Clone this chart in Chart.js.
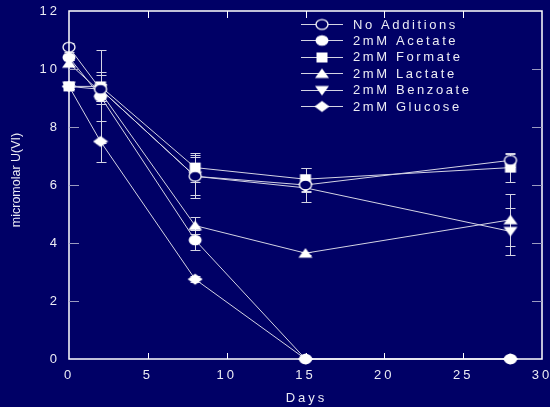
<!DOCTYPE html>
<html>
<head>
<meta charset="utf-8">
<script src="https://cdn.jsdelivr.net/npm/chart.js@4/dist/chart.umd.min.js"></script>
<style>
  html, body { margin: 0; padding: 0; background: #000066; }
  #wrap { width: 550px; height: 407px; }
</style>
</head>
<body>
<div id="wrap"><canvas id="grafico" width="550" height="407"></canvas></div>
<script>
// Days sampled
const dias = [0, 2, 8, 15, 28];

// Series names
const series = ["No Additions", "2mM Acetate", "2mM Formate", "2mM Lactate", "2mM Benzoate", "2mM Glucose"];

// micromolar U(VI) values
const semAdicao = [10.75, 9.3, 6.3, 6.0, 6.85];
const acetato   = [10.4, 9.05, 4.1, 0, 0];
const formato   = [9.4, 9.4, 6.6, 6.2, 6.6];
const lactato   = [10.2, 9.2, 4.6, 3.65, 4.8];
const benzoato  = [9.4, 9.3, 6.3, 5.9, 4.4];
const glicose   = [9.4, 7.5, 2.75, 0, 0];

// error bars (+/-)
const erroSemAdicao = [0.15, 0.5, 0.75, 0.6, 0.22];
const erroAcetato   = [0.1, 1.6, 0.35, 0, 0];
const erroFormato   = [0.1, 0.5, 0.5, 0.4, 0.5];
const erroLactato   = [0.1, 0.3, 0.3, 0.05, 0.9];
const erroBenzoato  = [0.1, 0.2, 0.65, 0.15, 0.8];
const erroGlicose   = [0.1, 0.72, 0.1, 0, 0];

// axis ticks
const ticksX = [0, 5, 10, 15, 20, 25, 30];
const ticksY = [0, 2, 4, 6, 8, 10, 12];

const FUNDO = "#000066";
const BRANCO = "#ececf4";
const LINHA = "#d4d4e4";

// Markers as small canvases (the original has slightly wide shapes)
function criarMarcador(tipo) {
  const c = document.createElement("canvas");
  c.width = 16; c.height = 14;
  const g = c.getContext("2d");
  g.fillStyle = "#ffffff";
  g.strokeStyle = "#ffffff";
  g.lineWidth = 1.3;
  const cx = 8, cy = 7;
  g.beginPath();
  if (tipo === "aberto") {
    g.ellipse(cx, cy, 6, 4.8, 0, 0, Math.PI * 2);
    g.fillStyle = FUNDO;
    g.fill();
    g.stroke();
    return c;
  } else if (tipo === "circulo") {
    g.ellipse(cx, cy, 6.5, 5.2, 0, 0, Math.PI * 2);
  } else if (tipo === "quadrado") {
    g.rect(cx - 5.5, cy - 5, 11, 10);
  } else if (tipo === "triangulo") {
    g.moveTo(cx, cy - 5); g.lineTo(cx + 7, cy + 4.5); g.lineTo(cx - 7, cy + 4.5);
  } else if (tipo === "invertido") {
    g.moveTo(cx, cy + 5); g.lineTo(cx + 7, cy - 4.5); g.lineTo(cx - 7, cy - 4.5);
  } else if (tipo === "losango") {
    g.moveTo(cx, cy - 5.5); g.lineTo(cx + 7.5, cy); g.lineTo(cx, cy + 5.5); g.lineTo(cx - 7.5, cy);
  }
  g.closePath();
  g.fill();
  return c;
}

const valores = [semAdicao, acetato, formato, lactato, benzoato, glicose];
const erros = [erroSemAdicao, erroAcetato, erroFormato, erroLactato, erroBenzoato, erroGlicose];
const marcadores = ["aberto", "circulo", "quadrado", "triangulo", "invertido", "losango"].map(criarMarcador);

const datasets = series.map(function (nome, i) {
  return {
    label: nome,
    data: dias.map(function (d, j) { return { x: d, y: valores[i][j] }; }),
    borderColor: LINHA,
    borderWidth: 1,
    pointStyle: marcadores[i],
    pointRadius: 7,
    pointHoverRadius: 7,
    fill: false,
    clip: false,
    tension: 0
  };
});

// Background, error bars, inward ticks, box, legend, titles
const pluginDesenho = {
  id: "desenho",
  beforeUpdate(chart) { chart.ctx.letterSpacing = "3px"; },
  beforeDraw(chart) {
    const ctx = chart.ctx;
    ctx.save();
    ctx.fillStyle = FUNDO;
    ctx.fillRect(0, 0, chart.width, chart.height);
    ctx.restore();
    ctx.letterSpacing = "3px";
  },
  beforeDatasetsDraw(chart) {
    const ctx = chart.ctx;
    const sx = chart.scales.x, sy = chart.scales.y;
    ctx.save();
    ctx.strokeStyle = LINHA;
    ctx.lineWidth = 1;
    erros.forEach(function (lista, i) {
      lista.forEach(function (e, j) {
        if (!e) return;
        const px = Math.round(sx.getPixelForValue(dias[j])) + 0.5;
        const top = Math.round(sy.getPixelForValue(valores[i][j] + e)) + 0.5;
        const bot = Math.round(sy.getPixelForValue(valores[i][j] - e)) + 0.5;
        ctx.beginPath();
        ctx.moveTo(px, top); ctx.lineTo(px, bot);
        ctx.moveTo(px - 5, top); ctx.lineTo(px + 5, top);
        ctx.moveTo(px - 5, bot); ctx.lineTo(px + 5, bot);
        ctx.stroke();
      });
    });
    ctx.restore();
  },
  afterDraw(chart) {
    const ctx = chart.ctx;
    const a = chart.chartArea;
    const sx = chart.scales.x, sy = chart.scales.y;
    ctx.save();
    // box
    ctx.strokeStyle = "#ffffff";
    ctx.lineWidth = 1.5;
    ctx.strokeRect(a.left, a.top, a.right - a.left, a.bottom - a.top);
    // x ticks inward (top and bottom)
    ctx.lineWidth = 1;
    ctx.beginPath();
    ticksX.slice(1, -1).forEach(function (v) {
      const px = Math.round(sx.getPixelForValue(v)) + 0.5;
      ctx.moveTo(px, a.bottom); ctx.lineTo(px, a.bottom - 6);
      ctx.moveTo(px, a.top); ctx.lineTo(px, a.top + 7);
    });
    ctx.stroke();
    // y ticks inward (left and right)
    ctx.strokeStyle = "#9a9ac0";
    ctx.beginPath();
    ticksY.slice(1, -1).forEach(function (v) {
      const py = Math.round(sy.getPixelForValue(v)) + 0.5;
      ctx.moveTo(a.left, py); ctx.lineTo(a.left + 10, py);
      ctx.moveTo(a.right, py); ctx.lineTo(a.right - 10, py);
    });
    ctx.stroke();

    // markers sitting on the x axis go over the box line
    [3, 4].forEach(function (j) {
      const px = sx.getPixelForValue(dias[j]);
      const py = sy.getPixelForValue(glicose[j]);
      ctx.drawImage(marcadores[5], Math.round(px) - 8, Math.round(py) - 7);
    });

    // legend
    ctx.font = "13px 'Liberation Sans', Arial, sans-serif";
    ctx.textBaseline = "middle";
    ctx.textAlign = "left";
    ctx.fillStyle = BRANCO;
    ctx.letterSpacing = "2.6px";
    series.forEach(function (nome, i) {
      const y = 24 + i * 16.4;
      ctx.strokeStyle = LINHA;
      ctx.beginPath();
      ctx.moveTo(301, Math.round(y) + 0.5); ctx.lineTo(343, Math.round(y) + 0.5);
      ctx.stroke();
      ctx.drawImage(marcadores[i], 322 - 8, Math.round(y) - 7 + 0.5);
      ctx.fillText(nome, 353, y + 1);
    });

    // axis titles
    ctx.textAlign = "center";
    ctx.letterSpacing = "3px";
    ctx.fillText("Days", (a.left + a.right) / 2 + 1, 398);
    ctx.letterSpacing = "0px";
    ctx.translate(17, (a.top + a.bottom) / 2 - 5);
    ctx.rotate(-Math.PI / 2);
    ctx.font = "12.5px 'Liberation Sans', Arial, sans-serif";
    ctx.fillText("micromolar U(VI)", 0, 0);
    ctx.restore();
  }
};

const fonteTicks = { family: "'Liberation Sans', Arial, sans-serif", size: 13 };

new Chart(document.getElementById("grafico"), {
  type: "line",
  data: { datasets: datasets },
  options: {
    responsive: false,
    animation: false,
    layout: { padding: { left: 0, top: 11, right: 7, bottom: 0 } },
    plugins: { legend: { display: false }, tooltip: { enabled: false } },
    scales: {
      x: {
        type: "linear",
        min: 0, max: 30,
        border: { display: false },
        grid: { display: false, drawTicks: false },
        ticks: { stepSize: 5, color: BRANCO, font: fonteTicks, padding: 9, maxRotation: 0 },
        afterFit(s) { s.height = 48; s.paddingLeft = 0; s.paddingRight = 0; }
      },
      y: {
        min: 0, max: 12,
        border: { display: false },
        grid: { display: false, drawTicks: false },
        ticks: { stepSize: 2, color: BRANCO, font: fonteTicks, padding: 9 },
        afterFit(s) { s.width = 69; s.paddingTop = 0; s.paddingBottom = 0; }
      }
    }
  },
  plugins: [pluginDesenho]
});
</script>
</body>
</html>
